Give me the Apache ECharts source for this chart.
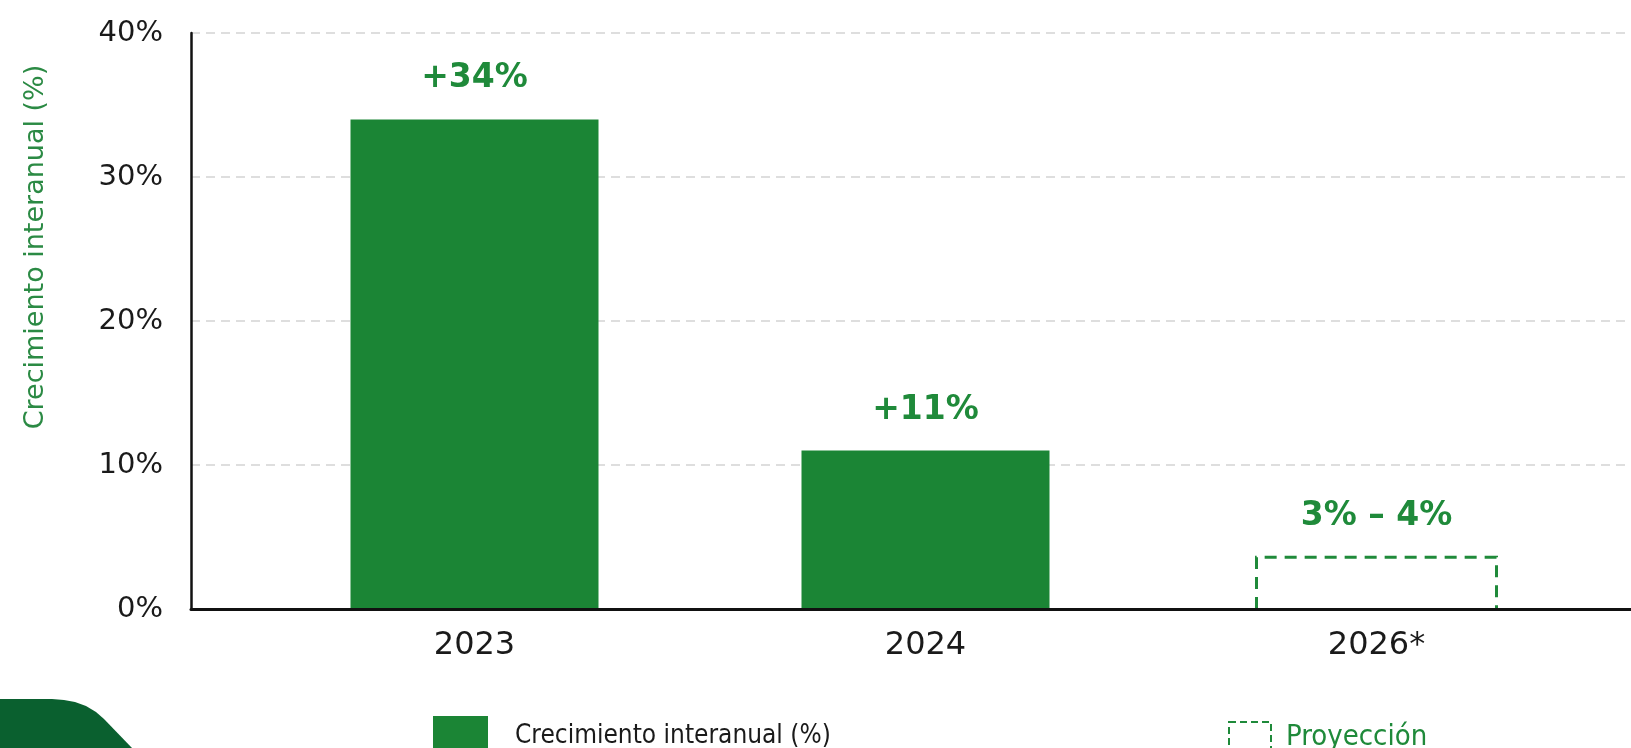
<!DOCTYPE html>
<html>
<head>
<meta charset="utf-8">
<script src="https://cdn.jsdelivr.net/npm/echarts@6/dist/echarts.min.js"></script>
<style>
  html, body { margin: 0; padding: 0; background: #ffffff; }
  #chart { width: 1631px; height: 748px; }
</style>
</head>
<body>
<div id="chart"></div>
<script>
// ---- data ----
var categories = ['2023', '2024', '2026*'];
var actualValues = [34, 11, null];
var projectionValues = [null, null, 3.6];
var valueLabels = ['+34%', '+11%', '3% \u2013 4%'];
var yTicks = [0, 10, 20, 30, 40];
var seriesNames = ['Crecimiento interanual (%)', 'Proyecci\u00f3n'];
var yAxisTitle = 'Crecimiento interanual (%)';

var GREEN = '#1b8535';
var GREEN_TEXT = '#1f8a3a';
var FONT = "'DejaVu Sans', 'Open Sans', sans-serif";
var FONT_NARROW = "'DejaVu Sans Condensed', 'Liberation Sans Narrow', 'Open Sans', sans-serif";

var chart = echarts.init(document.getElementById('chart'), null, { renderer: 'canvas' });

var projectionData = [];
projectionValues.forEach(function (v, i) { if (v != null) projectionData.push([i, v]); });

var option = {
  backgroundColor: '#ffffff',
  animation: false,
  grid: [
    { left: 249, right: 29, top: 33, bottom: 139 },
    { left: 191, right: 0, top: 33, bottom: 139 }
  ],
  xAxis: [
    {
      gridIndex: 0, type: 'category', data: categories,
      axisLine: { show: false }, axisTick: { show: false },
      axisLabel: { fontFamily: FONT, fontSize: 32, color: '#1a1a1a', margin: 21 }
    },
    {
      gridIndex: 1, type: 'value', min: 0, max: 1, z: 10,
      axisLine: { show: true, lineStyle: { color: '#111111', width: 3 } },
      axisTick: { show: false }, axisLabel: { show: false }, splitLine: { show: false }
    }
  ],
  yAxis: [
    { gridIndex: 0, type: 'value', min: yTicks[0], max: yTicks[yTicks.length - 1], show: false, splitLine: { show: false } },
    {
      gridIndex: 1, type: 'value', min: yTicks[0], max: yTicks[yTicks.length - 1], interval: 10,
      axisLine: { show: true, lineStyle: { color: '#111111', width: 2.5 } },
      axisTick: { show: false },
      axisLabel: { fontFamily: FONT, fontSize: 29, color: '#1a1a1a', margin: 28, formatter: '{value}%' },
      splitLine: { show: true, lineStyle: { color: '#d4d4d4', width: 1.5, type: [9, 6] } }
    }
  ],
  legend: [
    {
      data: [seriesNames[0]], left: 428, top: 711, itemWidth: 55, itemHeight: 40, icon: 'rect',
      selectedMode: false,
      itemStyle: { color: GREEN },
      textStyle: { fontFamily: FONT_NARROW, fontSize: 26, color: '#1a1a1a', padding: [0, 0, 0, 22] }
    },
    {
      data: [seriesNames[1]], left: 1223, top: 716, itemWidth: 42, itemHeight: 30, icon: 'rect',
      selectedMode: false,
      itemStyle: { color: 'rgba(0,0,0,0)', borderColor: GREEN_TEXT, borderWidth: 2, borderType: [7, 4] },
      textStyle: { fontFamily: FONT_NARROW, fontSize: 29, color: GREEN_TEXT, padding: [0, 0, 0, 10] }
    }
  ],
  graphic: [
    {
      type: 'polygon', silent: true, z: -1,
      shape: { points: [[0, 699], [52, 699], [64, 700], [75, 702], [86, 706], [96, 712], [104, 719], [132, 748], [0, 748]] },
      style: { fill: '#0a602f' }
    },
    {
      type: 'text', silent: true,
      x: 36, y: 247, rotation: Math.PI / 2,
      style: {
        text: yAxisTitle, fontFamily: FONT, fontSize: 27, fill: '#2b8a44',
        align: 'center', verticalAlign: 'middle'
      }
    }
  ],
  series: [
    {
      name: seriesNames[0], type: 'bar', xAxisIndex: 0, yAxisIndex: 0,
      data: actualValues, barWidth: 248,
      itemStyle: { color: GREEN },
      label: {
        show: true, position: 'top', distance: 24,
        fontFamily: FONT, fontSize: 33, fontWeight: 'bold', color: GREEN_TEXT,
        formatter: function (p) { return valueLabels[p.dataIndex]; }
      }
    },
    {
      name: seriesNames[1], type: 'custom', xAxisIndex: 0, yAxisIndex: 0,
      data: projectionData,
      encode: { x: 0, y: 1 },
      z: 3,
      renderItem: function (params, api) {
        var idx = api.value(0);
        var top = api.coord([idx, api.value(1)]);
        var base = api.coord([idx, 0]);
        var half = 240 / 2;
        return {
          type: 'group',
          children: [
            {
              type: 'polyline',
              shape: { points: [[top[0] - half, base[1]], [top[0] - half, top[1]], [top[0] + half, top[1]], [top[0] + half, base[1]]] },
              style: { fill: 'none', stroke: GREEN_TEXT, lineWidth: 3, lineDash: [12, 8] }
            },
            {
              type: 'text',
              x: top[0], y: top[1] - 24,
              style: {
                text: valueLabels[idx], fontFamily: FONT, fontSize: 33, fontWeight: 'bold',
                fill: GREEN_TEXT, align: 'center', verticalAlign: 'bottom'
              }
            }
          ]
        };
      }
    }
  ]
};

chart.setOption(option);
</script>
</body>
</html>
